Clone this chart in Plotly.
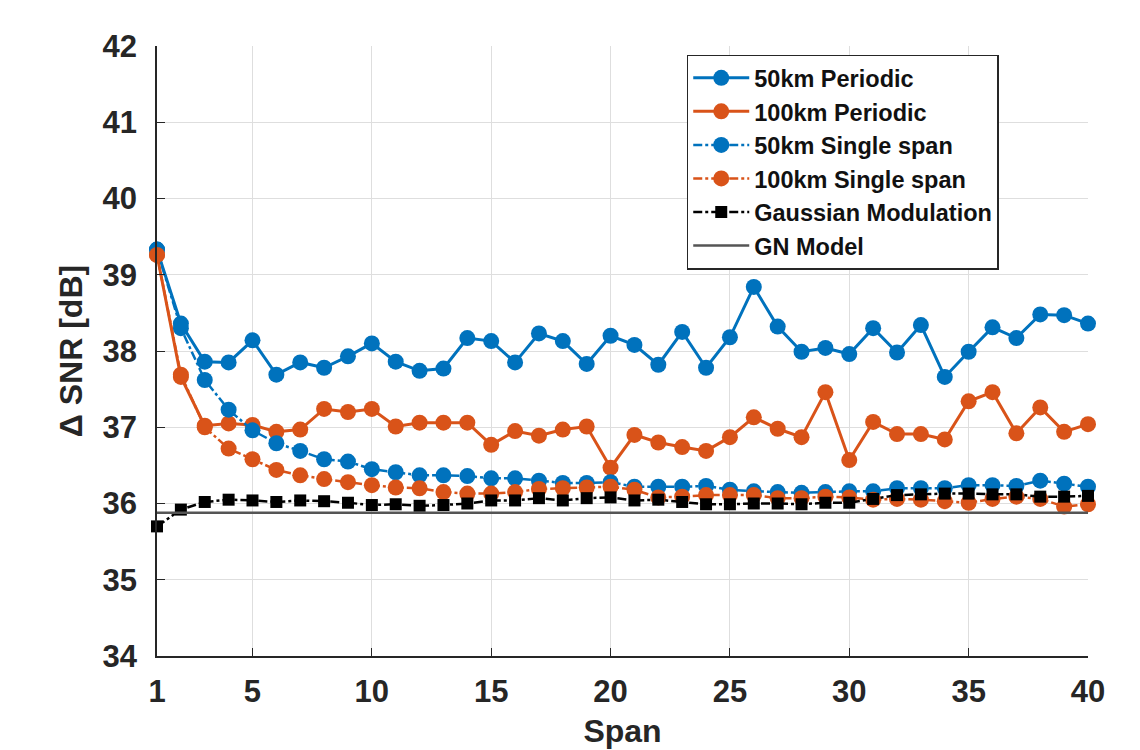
import plotly.graph_objects as go

spans = list(range(1, 41))

p50 = [39.33, 38.36, 37.86, 37.85, 38.14, 37.69, 37.85, 37.78, 37.93, 38.10,
       37.86, 37.74, 37.77, 38.17, 38.13, 37.85, 38.23, 38.13, 37.83, 38.20,
       38.08, 37.82, 38.25, 37.78, 38.18, 38.84, 38.32, 37.99, 38.04, 37.96,
       38.30, 37.98, 38.34, 37.66, 37.99, 38.31, 38.17, 38.48, 38.47, 38.36]

p100 = [39.26, 37.66, 37.02, 37.05, 37.03, 36.94, 36.97, 37.24, 37.20, 37.24,
        37.01, 37.06, 37.06, 37.06, 36.77, 36.95, 36.89, 36.97, 37.01, 36.47,
        36.90, 36.80, 36.74, 36.69, 36.87, 37.13, 36.98, 36.87, 37.46, 36.57,
        37.07, 36.91, 36.91, 36.84, 37.34, 37.46, 36.92, 37.26, 36.94, 37.04]

s50 = [39.33, 38.30, 37.62, 37.23, 36.96, 36.79, 36.69, 36.58, 36.55, 36.45,
       36.41, 36.37, 36.37, 36.36, 36.33, 36.33, 36.30, 36.27, 36.27, 36.28,
       36.22, 36.22, 36.22, 36.23, 36.18, 36.16, 36.15, 36.14, 36.15, 36.16,
       36.16, 36.20, 36.20, 36.20, 36.24, 36.24, 36.23, 36.30, 36.26, 36.22]

s100 = [39.26, 37.69, 37.00, 36.72, 36.58, 36.44, 36.37, 36.32, 36.28, 36.24,
        36.21, 36.20, 36.15, 36.13, 36.13, 36.15, 36.19, 36.20, 36.21, 36.22,
        36.18, 36.08, 36.09, 36.11, 36.11, 36.11, 36.07, 36.07, 36.09, 36.08,
        36.05, 36.06, 36.05, 36.03, 36.01, 36.06, 36.09, 36.06, 35.96, 35.99]

gauss = [35.70, 35.92, 36.02, 36.05, 36.04, 36.02, 36.04, 36.03, 36.01, 35.98,
         35.99, 35.97, 35.98, 36.00, 36.04, 36.04, 36.07, 36.04, 36.07, 36.08,
         36.04, 36.05, 36.02, 35.99, 35.99, 36.00, 36.00, 35.99, 36.01, 36.01,
         36.06, 36.11, 36.12, 36.13, 36.13, 36.12, 36.12, 36.09, 36.09, 36.10]

gn = [35.88, 35.88, 35.88, 35.88, 35.88, 35.88, 35.88, 35.88, 35.88, 35.88,
      35.88, 35.88, 35.88, 35.88, 35.88, 35.88, 35.88, 35.88, 35.88, 35.88,
      35.88, 35.88, 35.88, 35.88, 35.88, 35.88, 35.88, 35.88, 35.88, 35.88,
      35.88, 35.88, 35.88, 35.88, 35.88, 35.88, 35.88, 35.88, 35.88, 35.88]

x_ticks = [1, 5, 10, 15, 20, 25, 30, 35, 40]
y_ticks = [34, 35, 36, 37, 38, 39, 40, 41, 42]

BLUE = "#0072BD"
ORANGE = "#D95319"
AX = "#262626"
FONT = "Liberation Sans"

fig = go.Figure()

def add(y, name, color, dash, symbol, msize, lw):
    fig.add_trace(go.Scatter(
        x=spans, y=y, name=name, mode="lines+markers",
        line=dict(color=color, width=lw, dash=dash),
        marker=dict(color=color, symbol=symbol, size=msize),
        cliponaxis=False,
    ))

add(p50, "50km Periodic", BLUE, "solid", "circle", 16, 3)
add(p100, "100km Periodic", ORANGE, "solid", "circle", 16, 3)
add(s50, "50km Single span", BLUE, "dashdot", "circle", 16, 2.5)
add(s100, "100km Single span", ORANGE, "dashdot", "circle", 16, 2.5)
add(gauss, "Gaussian Modulation", "#000000", "dashdot", "square", 12, 2.5)
fig.add_trace(go.Scatter(
    x=spans, y=gn, name="GN Model", mode="lines",
    line=dict(color="#555555", width=2.5),
))

fig.update_layout(
    width=1140, height=750,
    margin=dict(l=157, r=52, t=46, b=94),
    paper_bgcolor="white", plot_bgcolor="white",
    font=dict(family=FONT, color=AX),
    showlegend=True,
    legend=dict(
        x=0.569, y=0.986, xanchor="left", yanchor="top",
        bgcolor="white", bordercolor=AX, borderwidth=1.5,
        font=dict(family=FONT, size=23.5, color="#111111", weight="bold"),
        itemwidth=56, tracegroupgap=0,
    ),
)

fig.update_xaxes(
    range=[1, 40], tickvals=x_ticks, ticktext=[str(v) for v in x_ticks],
    showgrid=True, gridcolor="#dedede", gridwidth=1,
    showline=True, linecolor=AX, linewidth=1.5,
    ticks="inside", ticklen=8, tickcolor=AX, tickwidth=1.2,
    tickfont=dict(family=FONT, size=31, color=AX, weight="bold"),
    ticklabelstandoff=7,
    zeroline=False,
    title=dict(text="Span", font=dict(family=FONT, size=32, color=AX, weight="bold"), standoff=12),
    automargin=False,
)
fig.update_yaxes(
    range=[34, 42], tickvals=y_ticks, ticktext=[str(v) for v in y_ticks],
    showgrid=True, gridcolor="#dedede", gridwidth=1,
    showline=True, linecolor=AX, linewidth=1.5,
    ticks="inside", ticklen=8, tickcolor=AX, tickwidth=1.2,
    tickfont=dict(family=FONT, size=31, color=AX, weight="bold"),
    ticklabelstandoff=12,
    zeroline=False,
    title=dict(text="\u0394 SNR [dB]", font=dict(family=FONT, size=32, color=AX, weight="bold"), standoff=10),
    automargin=False,
)

fig.write_html("out.html")
